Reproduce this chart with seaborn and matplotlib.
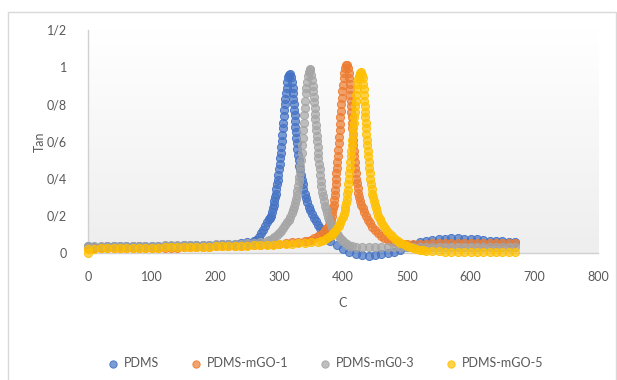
import numpy as np
import pandas as pd
import matplotlib
matplotlib.use("Agg")
import matplotlib.pyplot as plt
import seaborn as sns
from matplotlib.colors import LinearSegmentedColormap, to_rgba
from matplotlib.patches import Rectangle
from matplotlib.ticker import FuncFormatter, MultipleLocator

# series names as in the legend
names = ["PDMS", "PDMS-mGO-1", "PDMS-mG0-3", "PDMS-mGO-5"]
colors = ["#4472C4", "#ED7D31", "#A5A5A5", "#FFC000"]

# ---- PDMS ----
pdms_base_t = list(range(0, 260, 10))
pdms_base_v = [
    0.035, 0.034, 0.034, 0.035, 0.035, 0.036, 0.036, 0.037, 0.037, 0.038,
    0.038, 0.039, 0.039, 0.040, 0.040, 0.041, 0.041, 0.042, 0.043, 0.044,
    0.045, 0.046, 0.048, 0.050, 0.053, 0.057,
]
# points read along the peak (C, tan)
pdms_peak = [
    (260, .062), (264, .070), (268, .085), (272, .106), (275, .124), (278, .145),
    (281, .165), (284, .182), (286, .190), (287.5, .200), (289, .220), (290.5, .240),
    (291.5, .260), (292.5, .280), (293.5, .300), (294.5, .320), (295.5, .345),
    (296.5, .370), (297.5, .395), (298.5, .420), (299.5, .450), (300.5, .480),
    (301.3, .510), (302.1, .540), (302.9, .570), (303.7, .600), (304.5, .635),
    (305.3, .670), (306.1, .700), (306.9, .735), (307.7, .770), (308.5, .800),
    (309.4, .830), (310.4, .860), (311.5, .890), (312.7, .920), (314, .945),
    (315.5, .960), (317, .962),
    (318.5, .945), (319.8, .920), (320.8, .890), (321.6, .860), (322.3, .830),
    (322.9, .800), (323.5, .770), (324, .740), (324.6, .710), (325.2, .680),
    (326, .650), (326.8, .620), (327.6, .590), (328.5, .560), (329.4, .530),
    (330.4, .500), (331.4, .470), (332.5, .445), (333.7, .420), (335, .395),
    (336.5, .370), (338, .345), (339.8, .320), (341.7, .295), (343.7, .272),
    (346, .250), (348.5, .230), (351, .210), (354, .190), (357, .170),
    (360.5, .150), (364, .132), (368, .118), (372, .100), (376, .082),
]
pdms_tail_t = list(range(380, 680, 10))
pdms_tail_v = [
    0.063, 0.043, 0.024, 0.008, -0.004, -0.011, -0.014, -0.012, -0.007, -0.001,
    0.006, 0.016, 0.030, 0.045, 0.057, 0.066, 0.072, 0.076, 0.078, 0.079,
    0.079, 0.078, 0.076, 0.073, 0.070, 0.067, 0.064, 0.062, 0.060, 0.058,
]

# ---- PDMS-mGO-1 ----
mgo1_base_t = list(range(0, 340, 10))
mgo1_base_v = [
    0.028, 0.027, 0.026, 0.026, 0.026, 0.026, 0.026, 0.026, 0.027, 0.027,
    0.027, 0.028, 0.028, 0.029, 0.029, 0.030, 0.031, 0.032, 0.033, 0.034,
    0.035, 0.036, 0.037, 0.038, 0.040, 0.041, 0.043, 0.045, 0.047, 0.049,
    0.051, 0.054, 0.057, 0.060,
]
mgo1_peak = [
    (340, .062), (345, .067), (350, .072), (355, .080), (360, .089), (364, .099),
    (368, .110), (372, .123), (375, .135), (377.5, .148), (379.5, .165), (381, .180),
    (382.3, .200), (383.4, .220), (384.3, .240), (385.1, .260), (385.9, .285),
    (386.7, .310), (387.5, .340), (388.3, .370), (389, .400), (389.7, .430),
    (390.4, .460), (391.1, .490), (391.8, .520), (392.5, .555), (393.2, .590),
    (393.9, .625), (394.6, .660), (395.3, .695), (396, .730), (396.7, .765),
    (397.5, .800), (398.3, .835), (399.1, .870), (400, .905), (401, .940),
    (402.2, .970), (403.5, .995), (405, 1.010),
    (406.5, 1.010), (407.8, .995), (408.8, .970), (409.6, .940), (410.3, .910),
    (410.9, .880), (411.5, .850), (412, .820), (412.5, .790), (413, .760),
    (413.5, .730), (414, .700), (414.6, .670), (415.2, .640), (415.8, .610),
    (416.4, .580), (417, .550), (417.7, .520), (418.4, .490), (419.2, .460),
    (420, .430), (420.9, .400), (421.9, .375), (423, .350), (424.2, .325),
    (425.5, .300), (427, .280), (428.8, .260), (430.8, .240), (433, .220),
    (435.5, .200), (438.5, .180), (442, .160), (446, .140), (450.5, .122),
    (455, .107), (460, .092), (465, .080), (470, .071), (475, .064), (480, .059),
    (485, .055), (490, .052), (495, .050),
]
mgo1_tail_t = list(range(500, 680, 10))
mgo1_tail_v = [
    0.050, 0.050, 0.051, 0.051, 0.052, 0.052, 0.053, 0.053, 0.054, 0.054,
    0.054, 0.055, 0.055, 0.055, 0.055, 0.055, 0.055, 0.055,
]

# ---- PDMS-mG0-3 ----
mgo3_base_t = list(range(0, 280, 10))
mgo3_base_v = [
    0.036, 0.036, 0.036, 0.037, 0.037, 0.037, 0.038, 0.038, 0.039, 0.039,
    0.040, 0.040, 0.041, 0.041, 0.042, 0.042, 0.043, 0.043, 0.044, 0.045,
    0.046, 0.047, 0.048, 0.049, 0.051, 0.053, 0.055, 0.058,
]
mgo3_peak = [
    (280, .065), (284, .070), (288, .076), (292, .085), (296, .095), (300, .107),
    (303, .120), (306, .135), (309, .150), (312, .165), (315, .180), (317.5, .195),
    (319.8, .213), (321.6, .230), (323.3, .250), (324.8, .270), (326.2, .290),
    (327.4, .310), (328.5, .335), (329.5, .360), (330.5, .385), (331.4, .410),
    (332.3, .440), (333.2, .470), (334, .500), (335, .540), (336, .580),
    (336.8, .620), (337.6, .660), (338.3, .700), (339, .740), (339.7, .780),
    (340.4, .820), (341.2, .860), (342.2, .890), (343.3, .920), (344.6, .950),
    (346, .975), (347.5, .990),
    (349, .985), (350.5, .960), (351.8, .930), (352.8, .900), (353.6, .870),
    (354.3, .840), (355, .810), (355.6, .780), (356.2, .750), (356.8, .720),
    (357.4, .690), (358, .660), (358.7, .630), (359.4, .600), (360.1, .570),
    (360.8, .540), (361.5, .510), (362.3, .480), (363.2, .450), (364.1, .420),
    (365, .390), (366, .360), (367.1, .330), (368.3, .305), (369.7, .280),
    (371.2, .255), (372.8, .235), (374.5, .215), (376.5, .195), (378.7, .175),
    (381, .157), (383.5, .140), (386, .124), (389, .110), (392, .096), (395, .083),
    (398.5, .070), (402, .058), (406, .047), (410, .040), (414, .036),
]
mgo3_tail_t = list(range(420, 680, 10))
mgo3_tail_v = [
    0.032, 0.032, 0.032, 0.031, 0.031, 0.031, 0.031, 0.031, 0.031, 0.031,
    0.031, 0.031, 0.031, 0.031, 0.031, 0.031, 0.031, 0.031, 0.031, 0.031,
    0.031, 0.031, 0.031, 0.031, 0.031, 0.031,
]

# ---- PDMS-mGO-5 ----
mgo5_base_t = [0] + list(range(0, 360, 10))
mgo5_base_v = [
    0.0,
    0.024, 0.024, 0.025, 0.025, 0.026, 0.026, 0.027, 0.027, 0.028, 0.028,
    0.029, 0.029, 0.030, 0.030, 0.031, 0.032, 0.032, 0.033, 0.034, 0.034,
    0.035, 0.036, 0.037, 0.038, 0.039, 0.040, 0.041, 0.042, 0.044, 0.045,
    0.047, 0.049, 0.051, 0.053, 0.055, 0.057,
]
mgo5_peak = [
    (360, .058), (365, .063), (370, .071), (375, .080), (379, .089), (382, .097),
    (385, .106), (388, .118), (391, .132), (393.5, .146), (395.5, .160),
    (397.5, .176), (399.3, .193), (401, .210), (402.5, .230), (403.8, .250),
    (405, .270), (406, .290), (406.9, .315), (407.7, .340), (408.5, .370),
    (409.3, .400), (410.1, .430), (410.9, .460), (411.7, .490), (412.5, .520),
    (413.2, .550), (413.9, .580), (414.6, .610), (415.3, .640), (416, .670),
    (416.7, .700), (417.4, .730), (418.1, .760), (418.9, .790), (419.7, .820),
    (420.6, .850), (421.6, .880), (422.7, .910), (424, .935), (425.5, .955),
    (427, .968), (428.5, .972),
    (430, .960), (431.2, .940), (432, .910), (432.6, .880), (433.1, .850),
    (433.6, .820), (434.1, .790), (434.6, .760), (435.1, .730), (435.6, .700),
    (436.1, .670), (436.7, .640), (437.3, .610), (438, .580), (438.7, .550),
    (439.4, .520), (440.2, .490), (441, .460), (441.9, .430), (442.8, .400),
    (443.8, .370), (444.8, .345), (445.9, .320), (447.1, .300), (448.4, .280),
    (450, .260), (452, .240), (453.7, .220), (455.5, .200), (457.5, .182),
    (460, .165), (463, .148), (466, .133), (469.5, .118), (473, .104), (477, .090),
    (481, .077), (485.5, .066), (490, .056), (495, .047), (500, .040), (505, .033),
    (510, .027), (515, .022), (520, .018), (525, .015), (530, .012),
]
mgo5_tail_t = list(range(540, 680, 10))
mgo5_tail_v = [
    0.010, 0.009, 0.008, 0.007, 0.007, 0.006, 0.006, 0.006, 0.005, 0.005,
    0.005, 0.005, 0.005, 0.005,
]

parts = [
    (pdms_base_t, pdms_base_v, pdms_peak, pdms_tail_t, pdms_tail_v),
    (mgo1_base_t, mgo1_base_v, mgo1_peak, mgo1_tail_t, mgo1_tail_v),
    (mgo3_base_t, mgo3_base_v, mgo3_peak, mgo3_tail_t, mgo3_tail_v),
    (mgo5_base_t, mgo5_base_v, mgo5_peak, mgo5_tail_t, mgo5_tail_v),
]

sns.set_style("white")
plt.rcParams["font.family"] = ["Lato", "DejaVu Sans"]
txt = "#595959"

fig = plt.figure(figsize=(6.17, 3.80), dpi=100)
ax = fig.add_axes([88 / 617, 1 - 253 / 380, 510 / 617, 223 / 380])

# light chart frame like the spreadsheet chart box
fig.patches.append(Rectangle((8 / 617, -0.01), 608 / 617, 1 - 12 / 380 + 0.01,
                             transform=fig.transFigure, fill=False,
                             edgecolor="#d9d9d9", linewidth=1))

# soft gradient in the plot area
grad = LinearSegmentedColormap.from_list("g", ["#eeeeee", "#ffffff"])
ax.imshow(np.linspace(0, 1, 100).reshape(-1, 1), cmap=grad, origin="lower",
          extent=[0, 1, 0, 1], transform=ax.transAxes, aspect="auto", zorder=0)

for name, c, (bt, bv, pk, tt, tv) in zip(names, colors, parts):
    t = bt + [p[0] for p in pk] + tt
    v = bv + [p[1] for p in pk] + tv
    df = pd.DataFrame({"C": t, "Tan": v})
    sns.scatterplot(data=df, x="C", y="Tan", ax=ax, color=c, edgecolor=c,
                    s=34, linewidth=0.7, label=name, clip_on=False, zorder=3)
    coll = ax.collections[-1]
    coll.set_facecolor(to_rgba(c, 0.7))
    coll.set_edgecolor(to_rgba(c, 0.9))

ax.set_xlim(0, 800)
ax.set_ylim(0, 1.2)
ax.xaxis.set_major_locator(MultipleLocator(100))
ax.yaxis.set_major_locator(MultipleLocator(0.2))
ax.yaxis.set_major_formatter(FuncFormatter(lambda y, p: f"{round(y, 1):g}".replace(".", "/")))
ax.tick_params(length=0, labelsize=9, labelcolor=txt)
ax.tick_params(axis="x", pad=13)
ax.tick_params(axis="y", pad=15)

for s in ["top", "right"]:
    ax.spines[s].set_visible(False)
for s in ["left", "bottom"]:
    ax.spines[s].set_color("#d0d0d0")
    ax.spines[s].set_linewidth(1)

ax.set_xlabel("C", fontsize=9, color=txt)
ax.set_ylabel("Tan", fontsize=9, color=txt)
ax.xaxis.set_label_coords(0.5, -50 / 223)
ax.xaxis.label.set_va("center")
ax.yaxis.set_label_coords(-48 / 510, 0.5)
ax.yaxis.label.set_va("center")

ax.legend(loc="center", bbox_to_anchor=(0.522, 0.045), bbox_transform=fig.transFigure,
          ncol=4, frameon=False, fontsize=9, labelcolor=txt, handletextpad=-0.1,
          columnspacing=1.9, markerscale=0.9)

fig.savefig("out.png", dpi=100)
